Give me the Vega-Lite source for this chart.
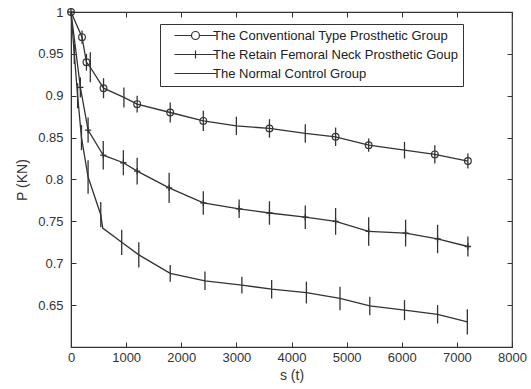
{
  "$schema": "https://vega.github.io/schema/vega-lite/v6.json",
  "width": 441,
  "height": 335,
  "autosize": "none",
  "padding": {"left": 71, "top": 12, "right": 19, "bottom": 42},
  "background": "white",
  "config": {
    "view": {"stroke": "#333", "strokeWidth": 1.2},
    "font": "Liberation Sans",
    "axis": {
      "grid": false,
      "domainColor": "#333",
      "tickColor": "#333",
      "tickSize": -5,
      "labelColor": "#333",
      "labelFontSize": 13,
      "titleColor": "#333",
      "titleFontSize": 14,
      "titleFontWeight": "normal",
      "labelFont": "Liberation Sans",
      "titleFont": "Liberation Sans"
    }
  },
  "data": {
    "values": [
      {"g": "The Conventional Type Prosthetic Group", "s": 0, "p": 1.0, "lo": 1.0, "hi": 1.0, "m": "o"},
      {"g": "The Conventional Type Prosthetic Group", "s": 200, "p": 0.970, "lo": 0.962, "hi": 0.978, "m": "o"},
      {"g": "The Conventional Type Prosthetic Group", "s": 280, "p": 0.940, "lo": 0.930, "hi": 0.950, "m": "o"},
      {"g": "The Conventional Type Prosthetic Group", "s": 350, "p": 0.934, "lo": 0.916, "hi": 0.952, "m": "-"},
      {"g": "The Conventional Type Prosthetic Group", "s": 590, "p": 0.909, "lo": 0.897, "hi": 0.921, "m": "o"},
      {"g": "The Conventional Type Prosthetic Group", "s": 960, "p": 0.898, "lo": 0.886, "hi": 0.910, "m": "-"},
      {"g": "The Conventional Type Prosthetic Group", "s": 1200, "p": 0.890, "lo": 0.880, "hi": 0.900, "m": "o"},
      {"g": "The Conventional Type Prosthetic Group", "s": 1800, "p": 0.880, "lo": 0.868, "hi": 0.892, "m": "o"},
      {"g": "The Conventional Type Prosthetic Group", "s": 2400, "p": 0.870, "lo": 0.858, "hi": 0.882, "m": "o"},
      {"g": "The Conventional Type Prosthetic Group", "s": 3000, "p": 0.864, "lo": 0.853, "hi": 0.875, "m": "-"},
      {"g": "The Conventional Type Prosthetic Group", "s": 3600, "p": 0.861, "lo": 0.850, "hi": 0.872, "m": "o"},
      {"g": "The Conventional Type Prosthetic Group", "s": 4250, "p": 0.855, "lo": 0.844, "hi": 0.866, "m": "-"},
      {"g": "The Conventional Type Prosthetic Group", "s": 4800, "p": 0.851, "lo": 0.840, "hi": 0.862, "m": "o"},
      {"g": "The Conventional Type Prosthetic Group", "s": 5400, "p": 0.841, "lo": 0.833, "hi": 0.849, "m": "o"},
      {"g": "The Conventional Type Prosthetic Group", "s": 6050, "p": 0.835, "lo": 0.825, "hi": 0.845, "m": "-"},
      {"g": "The Conventional Type Prosthetic Group", "s": 6600, "p": 0.830, "lo": 0.819, "hi": 0.841, "m": "o"},
      {"g": "The Conventional Type Prosthetic Group", "s": 7200, "p": 0.822, "lo": 0.813, "hi": 0.831, "m": "o"},

      {"g": "The Retain Femoral Neck Prosthetic Goup", "s": 0, "p": 1.0, "lo": 1.0, "hi": 1.0, "m": "+"},
      {"g": "The Retain Femoral Neck Prosthetic Goup", "s": 170, "p": 0.910, "lo": 0.898, "hi": 0.922, "m": "+"},
      {"g": "The Retain Femoral Neck Prosthetic Goup", "s": 310, "p": 0.859, "lo": 0.844, "hi": 0.874, "m": "+"},
      {"g": "The Retain Femoral Neck Prosthetic Goup", "s": 585, "p": 0.829, "lo": 0.812, "hi": 0.846, "m": "+"},
      {"g": "The Retain Femoral Neck Prosthetic Goup", "s": 950, "p": 0.820, "lo": 0.805, "hi": 0.835, "m": "+"},
      {"g": "The Retain Femoral Neck Prosthetic Goup", "s": 1200, "p": 0.810, "lo": 0.794, "hi": 0.826, "m": "+"},
      {"g": "The Retain Femoral Neck Prosthetic Goup", "s": 1780, "p": 0.790, "lo": 0.772, "hi": 0.808, "m": "+"},
      {"g": "The Retain Femoral Neck Prosthetic Goup", "s": 2400, "p": 0.772, "lo": 0.758, "hi": 0.786, "m": "+"},
      {"g": "The Retain Femoral Neck Prosthetic Goup", "s": 3050, "p": 0.765, "lo": 0.754, "hi": 0.776, "m": "+"},
      {"g": "The Retain Femoral Neck Prosthetic Goup", "s": 3600, "p": 0.760, "lo": 0.746, "hi": 0.774, "m": "+"},
      {"g": "The Retain Femoral Neck Prosthetic Goup", "s": 4250, "p": 0.755, "lo": 0.741, "hi": 0.769, "m": "+"},
      {"g": "The Retain Femoral Neck Prosthetic Goup", "s": 4800, "p": 0.750, "lo": 0.734, "hi": 0.766, "m": "+"},
      {"g": "The Retain Femoral Neck Prosthetic Goup", "s": 5400, "p": 0.738, "lo": 0.721, "hi": 0.755, "m": "+"},
      {"g": "The Retain Femoral Neck Prosthetic Goup", "s": 6070, "p": 0.736, "lo": 0.720, "hi": 0.752, "m": "+"},
      {"g": "The Retain Femoral Neck Prosthetic Goup", "s": 6650, "p": 0.729, "lo": 0.712, "hi": 0.746, "m": "+"},
      {"g": "The Retain Femoral Neck Prosthetic Goup", "s": 7200, "p": 0.720, "lo": 0.708, "hi": 0.732, "m": "+"},

      {"g": "The Normal Control Group", "s": 0, "p": 1.0, "lo": 1.0, "hi": 1.0, "m": "-"},
      {"g": "The Normal Control Group", "s": 60, "p": 0.950, "lo": 0.938, "hi": 0.962, "m": "-"},
      {"g": "The Normal Control Group", "s": 120, "p": 0.900, "lo": 0.885, "hi": 0.915, "m": "-"},
      {"g": "The Normal Control Group", "s": 190, "p": 0.850, "lo": 0.835, "hi": 0.865, "m": "-"},
      {"g": "The Normal Control Group", "s": 310, "p": 0.803, "lo": 0.783, "hi": 0.823, "m": "-"},
      {"g": "The Normal Control Group", "s": 540, "p": 0.758, "lo": 0.743, "hi": 0.773, "m": "-"},
      {"g": "The Normal Control Group", "s": 575, "p": 0.742, "lo": 0.742, "hi": 0.742, "m": "-"},
      {"g": "The Normal Control Group", "s": 920, "p": 0.725, "lo": 0.710, "hi": 0.740, "m": "-"},
      {"g": "The Normal Control Group", "s": 1230, "p": 0.710, "lo": 0.695, "hi": 0.725, "m": "-"},
      {"g": "The Normal Control Group", "s": 1800, "p": 0.688, "lo": 0.678, "hi": 0.698, "m": "-"},
      {"g": "The Normal Control Group", "s": 2430, "p": 0.679, "lo": 0.668, "hi": 0.690, "m": "-"},
      {"g": "The Normal Control Group", "s": 3100, "p": 0.674, "lo": 0.664, "hi": 0.684, "m": "-"},
      {"g": "The Normal Control Group", "s": 3640, "p": 0.669, "lo": 0.658, "hi": 0.680, "m": "-"},
      {"g": "The Normal Control Group", "s": 4270, "p": 0.665, "lo": 0.652, "hi": 0.678, "m": "-"},
      {"g": "The Normal Control Group", "s": 4880, "p": 0.658, "lo": 0.644, "hi": 0.672, "m": "-"},
      {"g": "The Normal Control Group", "s": 5420, "p": 0.649, "lo": 0.638, "hi": 0.660, "m": "-"},
      {"g": "The Normal Control Group", "s": 6050, "p": 0.644, "lo": 0.632, "hi": 0.656, "m": "-"},
      {"g": "The Normal Control Group", "s": 6650, "p": 0.639, "lo": 0.628, "hi": 0.650, "m": "-"},
      {"g": "The Normal Control Group", "s": 7190, "p": 0.630, "lo": 0.615, "hi": 0.645, "m": "-"}
    ]
  },
  "resolve": {"axis": {"x": "independent", "y": "independent"}},
  "layer": [
    {
      "mark": {"type": "line", "stroke": "#333", "strokeWidth": 1.3},
      "encoding": {
        "x": {"field": "s", "type": "quantitative",
              "scale": {"domain": [0, 8000], "nice": false},
              "axis": {"orient": "bottom", "title": "s (t)", "values": [0,1000,2000,3000,4000,5000,6000,7000,8000], "format": "d", "labelPadding": 9, "titlePadding": 4, "labelFlush": false}},
        "y": {"field": "p", "type": "quantitative",
              "scale": {"domain": [0.6, 1.0], "nice": false, "zero": false},
              "axis": {"orient": "left", "title": "P (KN)", "values": [0.65,0.7,0.75,0.8,0.85,0.9,0.95,1.0], "format": ".2~f", "labelPadding": 13, "titlePadding": 8, "labelFlush": false}},
        "detail": {"field": "g"}
      }
    },
    {
      "transform": [{"filter": "datum.lo != datum.hi"}],
      "mark": {"type": "rule", "stroke": "#333", "strokeWidth": 1.3},
      "encoding": {
        "x": {"field": "s", "type": "quantitative", "axis": null},
        "y": {"field": "lo", "type": "quantitative", "axis": null},
        "y2": {"field": "hi"}
      }
    },
    {
      "transform": [{"filter": "datum.m == 'o'"}],
      "mark": {"type": "point", "shape": "circle", "filled": false, "stroke": "#333", "strokeWidth": 1.2, "size": 45, "opacity": 1},
      "encoding": {
        "x": {"field": "s", "type": "quantitative", "axis": null},
        "y": {"field": "p", "type": "quantitative", "axis": null}
      }
    },
    {
      "transform": [{"filter": "datum.m == '+'"}],
      "mark": {"type": "point", "shape": "M-1,0H1M0,-1V1", "filled": false, "stroke": "#333", "strokeWidth": 1.3, "size": 40, "opacity": 1},
      "encoding": {
        "x": {"field": "s", "type": "quantitative", "axis": null},
        "y": {"field": "p", "type": "quantitative", "axis": null}
      }
    },
    {
      "mark": {"type": "point", "filled": false, "opacity": 0, "stroke": "#333"},
      "encoding": {
        "x": {"field": "s", "type": "quantitative",
              "axis": {"orient": "top", "title": null, "labels": false, "domain": false, "values": [0,1000,2000,3000,4000,5000,6000,7000,8000]}},
        "y": {"field": "p", "type": "quantitative",
              "axis": {"orient": "right", "title": null, "labels": false, "domain": false, "values": [0.6,0.65,0.7,0.75,0.8,0.85,0.9,0.95,1.0]}},
        "shape": {
          "field": "g", "type": "nominal",
          "scale": {
            "domain": ["The Conventional Type Prosthetic Group", "The Retain Femoral Neck Prosthetic Goup", "The Normal Control Group"],
            "range": ["M-7,0H-1.33M1.33,0H7M1.33,0A1.33,1.33 0 1,1 -1.33,0A1.33,1.33 0 1,1 1.33,0", "M-7,0H7M0,-1.3V1.3", "M-7,0H7"]
          },
          "legend": {
            "orient": "none",
            "legendX": 89,
            "legendY": 12,
            "title": null,
            "direction": "vertical",
            "symbolSize": 36,
            "symbolStrokeColor": "#333",
            "symbolStrokeWidth": 1.2,
            "symbolFillColor": "transparent",
            "symbolOpacity": 1,
            "labelFont": "Liberation Sans",
            "labelFontSize": 13,
            "labelLimit": 400,
            "labelColor": "#222",
            "labelOffset": 11,
            "symbolOffset": 24,
            "rowPadding": 5,
            "padding": 5,
            "strokeColor": "#333",
            "fillColor": "white"
          }
        }
      }
    }
  ]
}
